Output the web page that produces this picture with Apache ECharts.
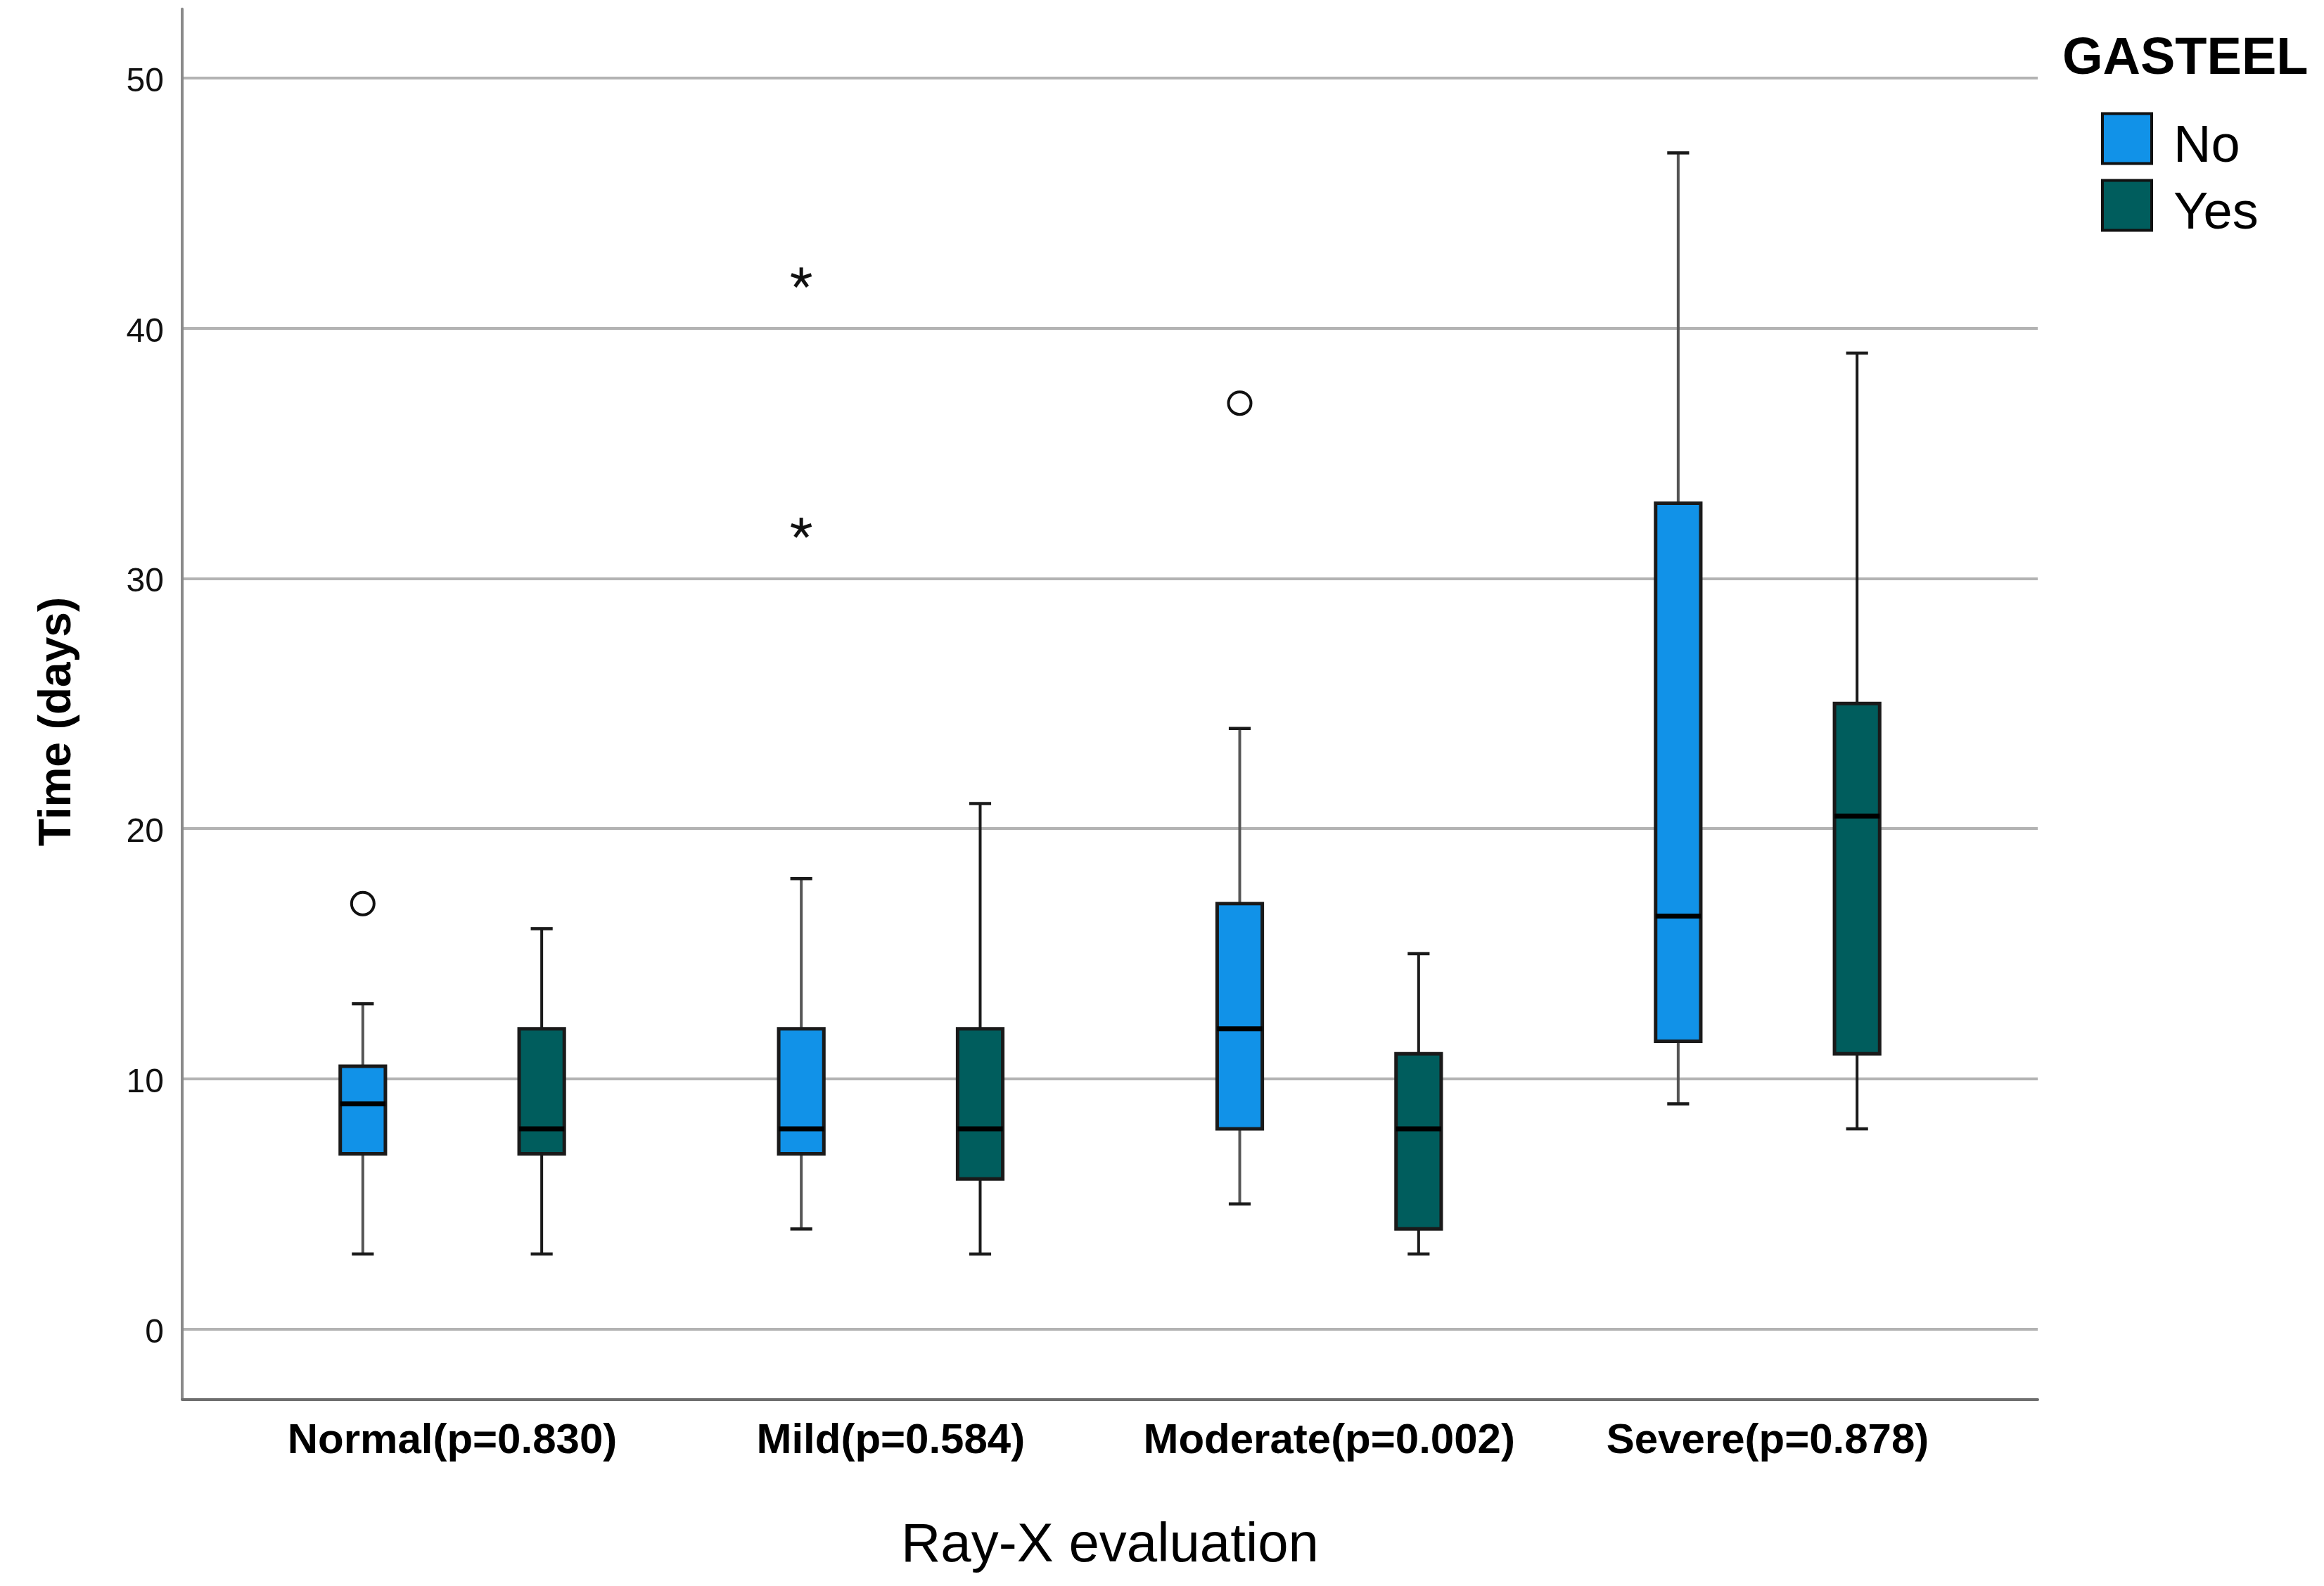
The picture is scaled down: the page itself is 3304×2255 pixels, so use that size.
<!DOCTYPE html>
<html><head><meta charset="utf-8">
<script src="https://cdn.jsdelivr.net/npm/echarts@6/dist/echarts.min.js"></script>
<style>html,body{margin:0;padding:0;background:#fff}#c{width:3304px;height:2255px}</style>
</head><body><div id="c"></div>
<script>
// ---- data ----
const categories = ['Normal(p=0.830)', 'Mild(p=0.584)', 'Moderate(p=0.002)', 'Severe(p=0.878)'];
const groupNames = ['No', 'Yes'];
// [min, Q1, median, Q3, max]
const boxNo  = [[3, 7, 9, 10.5, 13], [4, 7, 8, 12, 18], [5, 8, 12, 17, 24], [9, 11.5, 16.5, 33, 47]];
const boxYes = [[3, 7, 8, 12, 16],   [3, 6, 8, 12, 21], [3, 4, 8, 11, 15],  [8, 11, 20.5, 25, 39]];
// [category index, value]
const outliersNo = [[0, 17], [2, 37]];
const extremesNo = [[1, 42], [1, 32]];
const yTicks = [0, 10, 20, 30, 40, 50];
const xTicks = [0, 1, 2, 3];

// ---- style ----
const COLORS = { No: '#1192e8', Yes: '#005d5d' };
const FONT = '"Liberation Sans", Arial, sans-serif';
const OFFSET = 0.204, HALF_BOX = 0.0515, HALF_CAP = 0.025;

const chart = echarts.init(document.getElementById('c'), null, { renderer: 'canvas', width: 3304, height: 2255 });

function boxRender(sign, whiskerColor) {
  return function (params, api) {
    const cat = api.value(0);
    const unit = api.size([1, 0])[0];
    const dx = sign * OFFSET * unit, hb = HALF_BOX * unit, hc = HALF_CAP * unit;
    const p = k => api.coord([cat, api.value(k)]);
    const pMin = p(1), pQ1 = p(2), pMed = p(3), pQ3 = p(4), pMax = p(5);
    const x = pMin[0] + dx;
    const ws = { stroke: whiskerColor, lineWidth: 4 };
    const cs = { stroke: '#1a1a1a', lineWidth: 4.5 };
    return {
      type: 'group',
      children: [
        { type: 'line', shape: { x1: x, y1: pMax[1], x2: x, y2: pQ3[1] }, style: ws },
        { type: 'line', shape: { x1: x, y1: pQ1[1], x2: x, y2: pMin[1] }, style: ws },
        { type: 'line', shape: { x1: x - hc, y1: pMax[1], x2: x + hc, y2: pMax[1] }, style: cs },
        { type: 'line', shape: { x1: x - hc, y1: pMin[1], x2: x + hc, y2: pMin[1] }, style: cs },
        { type: 'rect', shape: { x: x - hb, y: pQ3[1], width: 2 * hb, height: pQ1[1] - pQ3[1] },
          style: { fill: api.visual('color'), stroke: '#1a1a1a', lineWidth: 5 } },
        { type: 'line', shape: { x1: x - hb, y1: pMed[1], x2: x + hb, y2: pMed[1] }, style: { stroke: '#000', lineWidth: 7 } }
      ]
    };
  };
}

function outlierRender(sign, kind) {
  return function (params, api) {
    const unit = api.size([1, 0])[0];
    const c = api.coord([api.value(0), api.value(1)]);
    const x = c[0] + sign * OFFSET * unit, y = c[1];
    if (kind === 'circle') {
      return { type: 'circle', shape: { cx: x, cy: y, r: 16 }, style: { fill: '#fff', stroke: '#111', lineWidth: 4 } };
    }
    const children = [];
    const r = 15;
    for (let k = 0; k < 5; k++) {
      const a = -Math.PI / 2 + k * 2 * Math.PI / 5;
      children.push({ type: 'line', shape: { x1: x, y1: y, x2: x + r * Math.cos(a), y2: y + r * Math.sin(a) },
        style: { stroke: '#111', lineWidth: 5 } });
    }
    return { type: 'group', children };
  };
}

const option = {
  backgroundColor: '#fff',
  animation: false,
  textStyle: { fontFamily: FONT },
  title: {
    text: 'GASTEEL', left: 2932, top: 48, padding: 0,
    textStyle: { fontSize: 74, fontWeight: 'bold', color: '#000', fontFamily: FONT }
  },
  legend: {
    orient: 'vertical', left: 2987, top: 147, padding: 0,
    itemWidth: 70, itemHeight: 71, itemGap: -5, icon: 'rect', selectedMode: false,
    formatter: name => '{t|' + name + '}',
    textStyle: { fontSize: 74, color: '#000', fontFamily: FONT,
      rich: { t: { fontSize: 74, lineHeight: 40, color: '#000', fontFamily: FONT, padding: [26, 0, 0, 26] } } },
    data: groupNames.map(n => ({ name: n, itemStyle: { color: COLORS[n], borderColor: '#111', borderWidth: 4 } }))
  },
  grid: { left: 259, right: 407, top: 12.8, bottom: 265.7, containLabel: false, outerBoundsMode: 'none' },
  xAxis: {
    type: 'value', min: -0.616, max: 3.616,
    axisLine: { show: true, onZero: false, lineStyle: { color: '#6e6e6e', width: 4 } },
    axisTick: { show: false, customValues: xTicks },
    axisLabel: { customValues: xTicks, formatter: v => categories[Math.round(v)] || '',
      fontSize: 60, fontWeight: 'bold', color: '#000', margin: 30, fontFamily: FONT },
    splitLine: { show: false },
    name: 'Ray-X evaluation', nameLocation: 'middle', nameGap: 170,
    nameTextStyle: { fontSize: 78, color: '#000', fontFamily: FONT }
  },
  yAxis: {
    type: 'value', min: -2.8, max: 52.75,
    axisLine: { show: true, onZero: false, lineStyle: { color: '#8a8a8a', width: 4 } },
    axisTick: { show: false, customValues: yTicks },
    axisLabel: { customValues: yTicks, fontSize: 48, color: '#111', margin: 26, fontFamily: FONT,
      verticalAlign: 'top', lineHeight: 12 },
    splitLine: { show: true, lineStyle: { color: '#b3b3b3', width: 4 } },
    name: 'Time (days)', nameLocation: 'middle', nameGap: 145,
    nameTextStyle: { fontSize: 64, fontWeight: 'bold', color: '#000', fontFamily: FONT, padding: [0, 50, 0, 0] }
  },
  series: [
    { type: 'custom', name: 'No', itemStyle: { color: COLORS.No }, renderItem: boxRender(-1, '#555'),
      data: boxNo.map((b, i) => [i, ...b]), encode: { x: 0, y: [1, 2, 3, 4, 5] }, z: 3 },
    { type: 'custom', name: 'Yes', itemStyle: { color: COLORS.Yes }, renderItem: boxRender(1, '#1a1a1a'),
      data: boxYes.map((b, i) => [i, ...b]), encode: { x: 0, y: [1, 2, 3, 4, 5] }, z: 3 },
    { type: 'custom', renderItem: outlierRender(-1, 'circle'), data: outliersNo, encode: { x: 0, y: 1 }, z: 4 },
    { type: 'custom', renderItem: outlierRender(-1, 'star'), data: extremesNo, encode: { x: 0, y: 1 }, z: 4 }
  ]
};
chart.setOption(option);
</script>
</body></html>
